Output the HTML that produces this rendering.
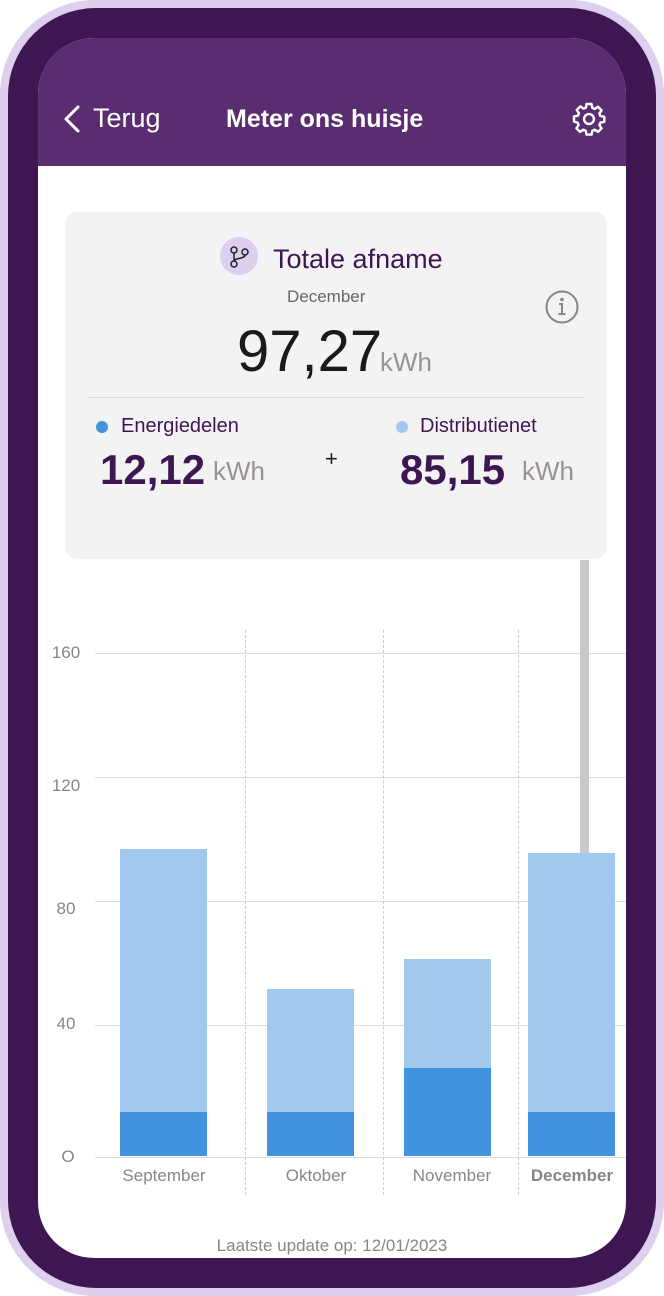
<!DOCTYPE html>
<html><head><meta charset="utf-8"><style>
*{margin:0;padding:0;box-sizing:border-box}
body{width:664px;height:1296px;background:#fff;font-family:"Liberation Sans",sans-serif;position:relative;overflow:hidden}
.outer{position:absolute;left:0;top:0;width:664px;height:1296px;border-radius:95px;background:#ddd0ee}
.frame{position:absolute;left:8px;top:8px;width:648px;height:1280px;border-radius:88px;background:#3d1652}
.screen{position:absolute;left:38px;top:38px;width:588px;height:1220px;border-radius:56px;background:#fff;overflow:hidden}
.hdr{position:absolute;left:0;top:0;width:588px;height:128px;background:#5a2d70}
.abs{position:absolute}
.t{position:absolute;white-space:nowrap}
.grid{position:absolute;left:95px;width:531px;height:1px;background:#dcdcdc}
.vd{position:absolute;width:0;border-left:1px dashed #ccc;top:630px;height:565px}
.yl{position:absolute;left:40px;width:52px;text-align:center;font-size:17px;color:#8a8585}
.xl{position:absolute;top:1166px;font-size:17px;color:#8a8585;text-align:center}
</style></head><body>
<div class="outer"></div><div class="frame"></div>
<div class="screen"><div class="hdr"></div></div>
<svg class="abs" style="left:62px;top:104px" width="20" height="30"><polyline points="16,3 4,15 16,27" fill="none" stroke="#fff" stroke-width="3" stroke-linecap="round" stroke-linejoin="round"/></svg>
<div class="t" style="left:93px;top:103px;font-size:27px;color:#fff">Terug</div>
<div class="t" style="left:226px;top:105px;font-size:25px;color:#fff;font-weight:bold">Meter ons huisje</div>
<svg class="abs" style="left:571px;top:101px" width="36" height="36" viewBox="0 0 24 24"><path d="M10.3 2h3.4l.5 2.6 1.6.7 2.2-1.5 2.4 2.4-1.5 2.2.7 1.6 2.6.5v3.4l-2.6.5-.7 1.6 1.5 2.2-2.4 2.4-2.2-1.5-1.6.7-.5 2.6h-3.4l-.5-2.6-1.6-.7-2.2 1.5-2.4-2.4 1.5-2.2-.7-1.6L2 13.7v-3.4l2.6-.5.7-1.6-1.5-2.2 2.4-2.4 2.2 1.5 1.6-.7z" fill="none" stroke="#fff" stroke-width="1.6" stroke-linejoin="round"/><circle cx="12" cy="12" r="3.3" fill="none" stroke="#fff" stroke-width="1.6"/></svg>

<div class="abs" style="left:65px;top:212px;width:542px;height:347px;background:#f3f3f3;border-radius:12px"></div>
<div class="abs" style="left:220px;top:237px;width:38px;height:38px;border-radius:50%;background:#dcd0ee"></div>
<svg class="abs" style="left:220px;top:237px" width="38" height="38"><circle cx="14" cy="13" r="3" fill="none" stroke="#222" stroke-width="1.5"/><circle cx="14" cy="27" r="3" fill="none" stroke="#222" stroke-width="1.5"/><circle cx="25" cy="15" r="3" fill="none" stroke="#222" stroke-width="1.5"/><path d="M14 16v8M25 18c0 4-11 3-11 6" fill="none" stroke="#222" stroke-width="1.5"/></svg>
<div class="t" style="left:273px;top:244px;font-size:27px;color:#3d1652">Totale afname</div>
<div class="t" style="left:287px;top:287px;font-size:17px;color:#6a6565">December</div>
<svg class="abs" style="left:544px;top:289px" width="36" height="36"><circle cx="18" cy="18" r="15.5" fill="none" stroke="#8a8585" stroke-width="2"/><circle cx="18" cy="10.5" r="1.8" fill="#8a8585"/><path d="M15 15h3v10M14.5 25h7" stroke="#8a8585" stroke-width="2" fill="none"/></svg>
<div class="t" style="left:237px;top:318px;font-size:58px;color:#1a1a1a">97,27</div>
<div class="t" style="left:380px;top:347px;font-size:26px;color:#9a9393">kWh</div>
<div class="abs" style="left:88px;top:397px;width:496px;height:1px;background:#dad9d6"></div>
<div class="abs" style="left:96px;top:421px;width:12px;height:12px;border-radius:50%;background:#4293de"></div>
<div class="t" style="left:121px;top:415px;font-size:20px;color:#3d1652">Energiedelen</div>
<div class="abs" style="left:396px;top:421px;width:12px;height:12px;border-radius:50%;background:#a3c8ee"></div>
<div class="t" style="left:420px;top:415px;font-size:20px;color:#3d1652">Distributienet</div>
<div class="t" style="left:100px;top:446px;font-size:42px;font-weight:bold;color:#3d1652">12,12</div>
<div class="t" style="left:213px;top:456px;font-size:26px;color:#9a9393">kWh</div>
<div class="t" style="left:325px;top:446px;font-size:22px;color:#222">+</div>
<div class="t" style="left:400px;top:446px;font-size:42px;font-weight:bold;color:#3d1652">85,15</div>
<div class="t" style="left:522px;top:456px;font-size:26px;color:#9a9393">kWh</div>

<div class="grid" style="top:653px"></div>
<div class="grid" style="top:777px"></div>
<div class="grid" style="top:901px"></div>
<div class="grid" style="top:1025px"></div>
<div class="grid" style="top:1157px"></div>
<div class="yl" style="top:643px">160</div>
<div class="yl" style="top:776px">120</div>
<div class="yl" style="top:899px">80</div>
<div class="yl" style="top:1014px">40</div>
<div class="yl" style="top:1147px;left:48px;width:40px">O</div>
<div class="vd" style="left:245px"></div>
<div class="vd" style="left:383px"></div>
<div class="vd" style="left:518px"></div>
<div class="abs" style="left:580px;top:560px;width:9px;height:293px;background:#c8c8c8"></div>

<div class="abs" style="left:120px;top:849px;width:87px;height:263px;background:#a3c8ee"></div>
<div class="abs" style="left:120px;top:1112px;width:87px;height:44px;background:#4293de"></div>
<div class="abs" style="left:267px;top:989px;width:87px;height:123px;background:#a3c8ee"></div>
<div class="abs" style="left:267px;top:1112px;width:87px;height:44px;background:#4293de"></div>
<div class="abs" style="left:404px;top:959px;width:87px;height:109px;background:#a3c8ee"></div>
<div class="abs" style="left:404px;top:1068px;width:87px;height:88px;background:#4293de"></div>
<div class="abs" style="left:528px;top:853px;width:87px;height:259px;background:#a3c8ee"></div>
<div class="abs" style="left:528px;top:1112px;width:87px;height:44px;background:#4293de"></div>

<div class="xl" style="left:104px;width:120px">September</div>
<div class="xl" style="left:256px;width:120px">Oktober</div>
<div class="xl" style="left:392px;width:120px">November</div>
<div class="xl" style="left:518px;width:108px;font-weight:bold">December</div>
<div class="t" style="left:0;width:664px;text-align:center;top:1236px;font-size:17px;color:#8a8585">Laatste update op: 12/01/2023</div>
</body></html>
